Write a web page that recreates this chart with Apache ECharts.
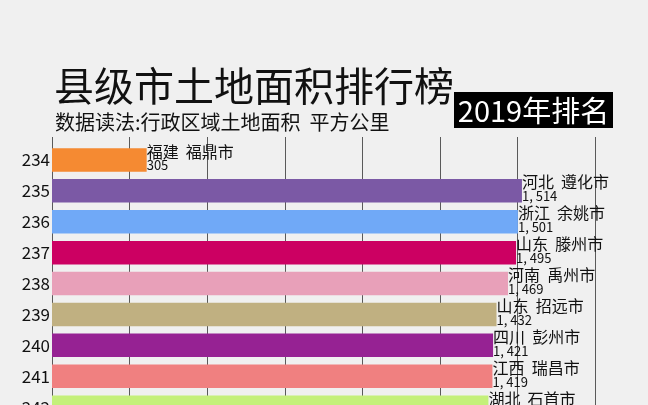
<!DOCTYPE html>
<html>
<head>
<meta charset="utf-8">
<script src="https://cdn.jsdelivr.net/npm/echarts@6/dist/echarts.min.js"></script>
<style>
html,body{margin:0;padding:0;background:#f0f0f0;}
#c{width:648px;height:405px;}
</style>
</head>
<body>
<div id="c"></div>
<script>
var ranks = ['234','235','236','237','238','239','240','241','242'];
var provinces = ['福建','河北','浙江','山东','河南','山东','四川','江西','湖北'];
var cities = ['福鼎市','遵化市','余姚市','滕州市','禹州市','招远市','彭州市','瑞昌市','石首市'];
var areas = [305, 1514, 1501, 1495, 1469, 1432, 1421, 1419, 1406];
var colors = ['#f58a32','#7b59a5','#70a9f7','#cc0062','#e8a0b9','#c0b081','#962293','#f08080','#c4f07a'];
var xTicks = [0, 250, 500, 750, 1000, 1250, 1500, 1750];
var yearText = '2019年排名';
var titleText = '县级市土地面积排行榜';
var subText = '数据读法:行政区域土地面积  平方公里';

var NARROW = '"Noto Sans CJK SC", sans-serif';
var CJK = '"Noto Sans CJK SC", sans-serif';
var XMAX = 2000;

function fmt(v){
  var s = String(v);
  if (s.length > 3) s = s.slice(0, s.length-3) + ', ' + s.slice(s.length-3);
  return s;
}

var chart = echarts.init(document.getElementById('c'), null, {renderer:'canvas'});
var seriesData = areas.map(function(v,i){
  return {value:v, name: provinces[i] + '  ' + cities[i], itemStyle:{color:colors[i]}};
});

chart.setOption({
  backgroundColor:'#f0f0f0',
  animation:false,
  grid:[
    {left:52, top:144.5, width:620.8, height:278.1, containLabel:false, outerBoundsMode:'none'},
    {left:52, top:137, width:620.8, height:280, containLabel:false, outerBoundsMode:'none'}
  ],
  xAxis:[
    {type:'value', gridIndex:0, min:0, max:XMAX, show:false},
    {type:'value', gridIndex:1, min:0, max:XMAX, interval:250,
     axisLine:{show:false}, axisTick:{show:false}, axisLabel:{show:false},
     splitLine:{show:true, lineStyle:{color:'#5a5a5a', width:1}}}
  ],
  yAxis:[
    {type:'category', gridIndex:0, inverse:true, data:ranks,
     axisLine:{show:false}, axisTick:{show:false},
     axisLabel:{color:'#111', fontSize:17, fontFamily:NARROW, margin:2}},
    {type:'value', gridIndex:1, min:0, max:1, show:false}
  ],
  series:[{
    type:'bar', xAxisIndex:0, yAxisIndex:0,
    barCategoryGap:'24%',
    data:seriesData,
    label:{
      show:true, position:'right', distance:0, offset:[0,-2],
      formatter:function(p){ return '{a|' + p.name + '}\n{b|' + fmt(p.value) + '}'; },
      rich:{
        a:{fontSize:16, fontFamily:CJK, color:'#111', lineHeight:15},
        b:{fontSize:13, fontFamily:NARROW, color:'#111', lineHeight:13}
      }
    }
  }],
  graphic:[
    {type:'text', left:54, top:66, z:10,
     style:{text:titleText, fontSize:40, fontFamily:CJK, fill:'#111'}},
    {type:'text', left:55, top:112, z:10,
     style:{text:subText, fontSize:20, fontFamily:NARROW, fill:'#111'}},
    {type:'rect', shape:{x:454, y:92, width:159, height:36}, z:10,
     style:{fill:'#000'}},
    {type:'text', x:533.5, y:110.5, z:11,
     style:{text:yearText, fontSize:29, fontFamily:NARROW, fill:'#fff', align:'center', verticalAlign:'middle'}}
  ]
});
</script>
</body>
</html>
